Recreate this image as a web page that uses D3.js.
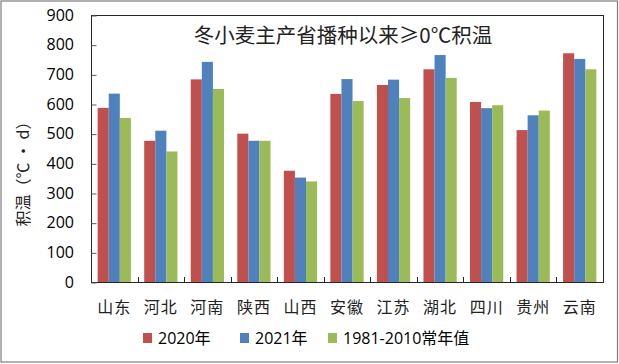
<!DOCTYPE html>
<html><head><meta charset="utf-8">
<script src="https://cdn.jsdelivr.net/npm/d3@7"></script>
<style>body{margin:0;background:#fff}svg{display:block}</style>
</head><body>
<script>
const categories = ["山东","河北","河南","陕西","山西","安徽","江苏","湖北","四川","贵州","云南"];
const seriesNames = ["2020年","2021年","1981-2010常年值"];
const values2020 = [587,476,683,500,375,634,664,717,607,512,771];
const values2021 = [635,510,742,476,352,684,682,765,586,562,752];
const valuesNormal = [553,440,651,476,339,610,620,688,596,578,717];
const yTicks = [0,100,200,300,400,500,600,700,800,900];
const colors = ["#C0504D","#4F81BD","#9BBB59"];
const title = "冬小麦主产省播种以来≥0℃积温";
const yTitle = "积温（℃ • d）";

const W = 619, H = 364;
const m = {l:91, r:603, t:15, b:282};
const svg = d3.select("body").append("svg").attr("width",W).attr("height",H);
svg.append("rect").attr("width",W).attr("height",H).attr("fill","#fff");
svg.append("rect").attr("x",1).attr("y",1).attr("width",616.5).attr("height",361)
  .attr("fill","none").attr("stroke","#7f7f7f").attr("stroke-width",1.2);

const x0 = d3.scaleBand().domain(categories).range([m.l,m.r]).padding(0);
const x1 = d3.scaleBand().domain(seriesNames).range([0,x0.bandwidth()]).paddingInner(0).paddingOuter(0.6);
const y = d3.scaleLinear().domain([0,900]).range([m.b,m.t]);

const allSeries = [values2020, values2021, valuesNormal];
const sans = "'Open Sans','Noto Sans CJK SC',sans-serif";
const cjk = "'Noto Sans CJK SC',sans-serif";

// bars
allSeries.forEach((vals,si)=>{
  svg.append("g").selectAll("rect").data(categories).join("rect")
    .attr("x",c=>x0(c)+x1(seriesNames[si]))
    .attr("width",x1.bandwidth())
    .attr("y",(c,i)=>y(vals[i]))
    .attr("height",(c,i)=>m.b-y(vals[i]))
    .attr("fill",colors[si]);
});

// plot frame
svg.append("rect").attr("x",m.l+0.5).attr("y",m.t+0.5).attr("width",m.r-m.l).attr("height",m.b-m.t)
  .attr("fill","none").attr("stroke","#262626").attr("stroke-width",1);

// y axis
const yAx = svg.append("g").attr("transform",`translate(${m.l+0.5},0.5)`)
  .call(d3.axisRight(y).tickValues(yTicks).tickSize(5).tickFormat(""));
yAx.select(".domain").remove();
yAx.selectAll("line").attr("stroke","#595959");
svg.append("g").selectAll("text").data(yTicks).join("text")
  .attr("x",74).attr("y",d=>y(d)).attr("dy","0.36em").attr("text-anchor","end")
  .attr("font-family",sans).attr("font-size",16).attr("fill","#000").text(d=>d);

// x axis ticks at boundaries
svg.append("g").selectAll("line").data(categories.slice(1)).join("line")
  .attr("x1",c=>Math.round(x0(c))+0.5).attr("x2",c=>Math.round(x0(c))+0.5)
  .attr("y1",m.b-5).attr("y2",m.b).attr("stroke","#262626");
svg.append("g").selectAll("text").data(categories).join("text")
  .attr("x",c=>x0(c)+x0.bandwidth()/2).attr("y",307).attr("dy","0.36em")
  .attr("text-anchor","middle").attr("font-family",cjk).attr("font-size",16).attr("fill","#222")
  .attr("letter-spacing",1).text(c=>c);

// title
svg.append("text").attr("x",343).attr("y",35.5).attr("dy","0.36em").attr("text-anchor","middle")
  .attr("font-family",cjk).attr("font-size",20.5).attr("fill","#222").text(title);

// y title
svg.append("text").attr("transform","translate(23,170) rotate(-90)").attr("dy","0.36em")
  .attr("text-anchor","middle").attr("font-family",cjk).attr("font-size",16).attr("fill","#222").text(yTitle);

// legend
const legX = [143,240,328];
seriesNames.forEach((s,i)=>{
  svg.append("rect").attr("x",legX[i]).attr("y",333).attr("width",9).attr("height",10).attr("fill",colors[i]);
  svg.append("text").attr("x",legX[i]+15).attr("y",338.5).attr("dy","0.36em")
    .attr("font-family",sans).attr("font-size",16).attr("fill","#000").text(s);
});
</script>
</body></html>
